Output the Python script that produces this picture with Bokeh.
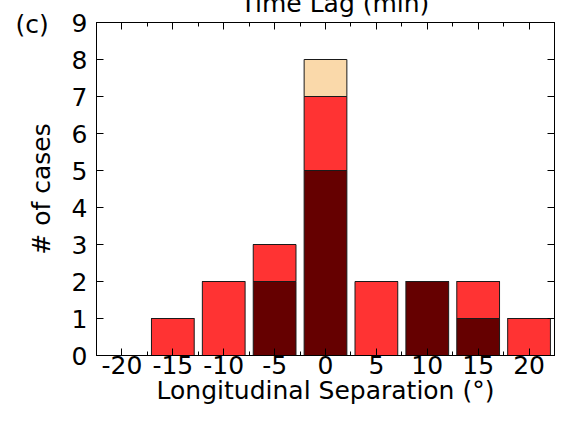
from bokeh.plotting import figure
from bokeh.models import FixedTicker, LinearAxis, Range1d, Title
from bokeh.embed import file_html
from bokeh.resources import INLINE

# Data
separation = [-15, -10, -5, 0, 5, 10, 15, 20]
dark_counts = [0, 0, 2, 5, 0, 2, 1, 0]
red_counts = [1, 2, 1, 2, 2, 0, 1, 1]
peach_counts = [0, 0, 0, 1, 0, 0, 0, 0]
x_ticks = [-20, -15, -10, -5, 0, 5, 10, 15, 20]
x_minor = [-22.5, -17.5, -12.5, -7.5, -2.5, 2.5, 7.5, 12.5, 17.5, 22.5]
y_ticks = [0, 1, 2, 3, 4, 5, 6, 7, 8, 9]

FONT = "DejaVu Sans"
FS = "25px"

p = figure(width=555, height=412, output_backend="svg", toolbar_location=None,
           x_range=Range1d(-22.5, 22.5), y_range=Range1d(0, 9),
           min_border_left=96, min_border_right=1, min_border_top=21, min_border_bottom=57)

p.vbar_stack(["dark", "red", "peach"], x="x", width=4.2,
             color=["#650000", "#FF3333", "#FAD9AA"],
             line_color="#1a1a1a", line_width=1,
             source=dict(x=separation, dark=dark_counts, red=red_counts, peach=peach_counts))

p.xgrid.visible = False
p.ygrid.visible = False
p.outline_line_color = "black"
p.outline_line_width = 1
p.outline_line_alpha = 1
p.background_fill_color = "white"
p.border_fill_color = "white"

xt = FixedTicker(ticks=x_ticks, minor_ticks=x_minor)
yt = FixedTicker(ticks=y_ticks, minor_ticks=[])

def style(ax, labels=True):
    ax.axis_line_color = "black"
    ax.major_tick_line_color = "black"
    ax.minor_tick_line_color = "black"
    ax.major_tick_in = 7
    ax.major_tick_out = 0
    ax.minor_tick_in = 4
    ax.minor_tick_out = 0
    if labels:
        ax.major_label_text_font = FONT
        ax.major_label_text_font_size = FS
        ax.major_label_text_color = "black"
        ax.axis_label_text_font = FONT
        ax.axis_label_text_font_size = FS
        ax.axis_label_text_font_style = "normal"
        ax.axis_label_text_color = "black"
    else:
        ax.major_label_text_font_size = "0px"
        ax.major_label_standoff = 0

xa = p.xaxis[0]
xa.ticker = xt
style(xa)
xa.major_label_overrides = {v: str(v) for v in x_ticks}
xa.major_label_standoff = 0
xa.axis_label = "Longitudinal Separation (°)"
xa.axis_label_standoff = -1

ya = p.yaxis[0]
ya.ticker = yt
style(ya)
ya.major_label_standoff = 9
ya.axis_label = "# of cases"
ya.axis_label_standoff = 13

ta = LinearAxis(ticker=xt)
style(ta, labels=False)
p.add_layout(ta, "above")

# invisible spacer axis between the frame and the (clipped) title
spacer = LinearAxis(ticker=FixedTicker(ticks=[0], minor_ticks=[]))
spacer.axis_line_color = None
spacer.major_tick_line_color = None
spacer.minor_tick_line_color = None
spacer.major_tick_in = 0
spacer.major_tick_out = 18
spacer.minor_tick_out = 0
spacer.major_label_text_font_size = "0px"
spacer.major_label_standoff = 0
p.add_layout(spacer, "above")

ra = LinearAxis(ticker=yt)
style(ra, labels=False)
p.add_layout(ra, "right")

p.add_layout(Title(text="Time Lag (min)", align="left", vertical_align="bottom", offset=144,
                   standoff=-27, text_font=FONT, text_font_size=FS, text_font_style="normal",
                   text_color="black"), "above")
p.title = Title(text="(c)", align="left", vertical_align="bottom", offset=-81, standoff=-76,
                text_font=FONT, text_font_size=FS, text_font_style="normal", text_color="black")

open("out.html", "w").write(file_html(p, INLINE))
